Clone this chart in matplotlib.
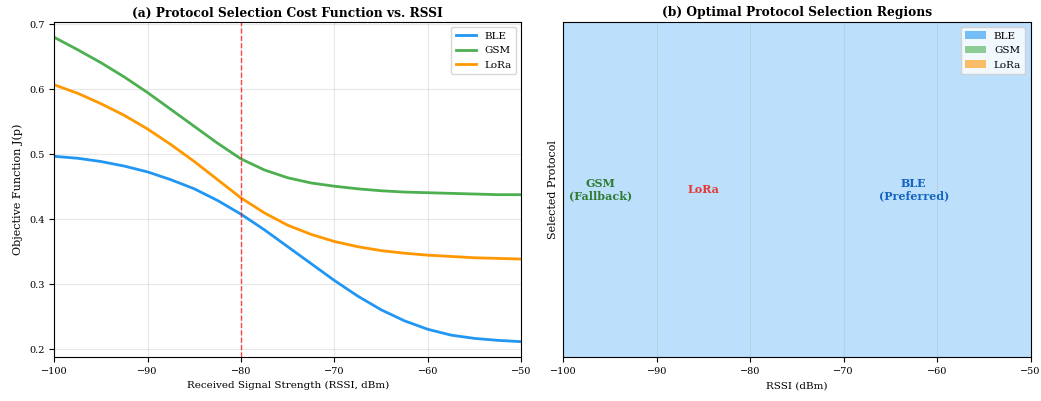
import numpy as np
import matplotlib
matplotlib.use("Agg")
import matplotlib.pyplot as plt
from matplotlib.patches import Patch

plt.rcParams['font.family'] = ['DejaVu Serif']

rssi = [-100, -97.5, -95, -92.5, -90, -87.5, -85, -82.5, -80, -77.5, -75,
        -72.5, -70, -67.5, -65, -62.5, -60, -57.5, -55, -52.5, -50]
ble = [0.497, 0.494, 0.489, 0.482, 0.473, 0.461, 0.447, 0.429, 0.408, 0.384, 0.358,
       0.332, 0.306, 0.282, 0.261, 0.244, 0.231, 0.222, 0.217, 0.214, 0.212]
gsm = [0.680, 0.661, 0.641, 0.619, 0.595, 0.569, 0.543, 0.517, 0.493, 0.476, 0.464,
       0.456, 0.451, 0.447, 0.444, 0.442, 0.441, 0.440, 0.439, 0.438, 0.438]
lora = [0.607, 0.594, 0.578, 0.560, 0.539, 0.515, 0.489, 0.461, 0.433, 0.410, 0.391,
        0.377, 0.366, 0.358, 0.352, 0.348, 0.345, 0.343, 0.341, 0.340, 0.339]

protocols = ['BLE', 'GSM', 'LoRa']
colors = ['#2196F3', '#4CAF50', '#FF9800']
threshold = -80

region_labels = ['GSM\n(Fallback)', 'LoRa', 'BLE\n(Preferred)']
region_x = [-96, -85, -62.5]
region_colors = ['#2E7D32', '#E53935', '#1565C0']

fig, (ax1, ax2) = plt.subplots(1, 2, figsize=(10.41, 4.01), dpi=100)
fig.subplots_adjust(left=0.052, right=0.99, top=0.945, bottom=0.11, wspace=0.09)

series = [ble, gsm, lora]
for name, vals, c in zip(protocols, series, colors):
    ax1.plot(rssi, vals, color=c, lw=2, label=name)
ax1.axvline(threshold, color='red', ls='--', lw=1, alpha=0.7)
ax1.set_xlim(-100, -50)
ax1.set_xlabel('Received Signal Strength (RSSI, dBm)', fontsize=7.5)
ax1.set_ylabel('Objective Function J(p)', fontsize=8)
ax1.set_title('(a) Protocol Selection Cost Function vs. RSSI', fontsize=8.8, fontweight='bold', pad=4)
ax1.grid(True, alpha=0.3)
ax1.tick_params(labelsize=7)
ax1.legend(fontsize=7.5, loc='upper right')

arr = np.array(series)
best = np.argmin(arr, axis=0)
for i, (name, c) in enumerate(zip(protocols, colors)):
    mask = best == i
    if mask.any():
        ax2.fill_between(rssi, 0, 1, where=mask, color=c, alpha=0.3, lw=0)
for lab, x, c in zip(region_labels, region_x, region_colors):
    ax2.text(x, 0.5, lab, ha='center', va='center', fontsize=8, fontweight='bold', color=c)
ax2.set_xlim(-100, -50)
ax2.set_ylim(0, 1)
ax2.set_yticks([])
ax2.set_xlabel('RSSI (dBm)', fontsize=7.5)
ax2.set_ylabel('Selected Protocol', fontsize=8)
ax2.set_title('(b) Optimal Protocol Selection Regions', fontsize=8.8, fontweight='bold', pad=4)
ax2.grid(True, alpha=0.3)
ax2.tick_params(labelsize=7)
handles = [Patch(facecolor=c, alpha=0.6, label=n) for n, c in zip(protocols, colors)]
ax2.legend(handles=handles, fontsize=7.5, loc='upper right')

fig.savefig('out.png', dpi=100)
